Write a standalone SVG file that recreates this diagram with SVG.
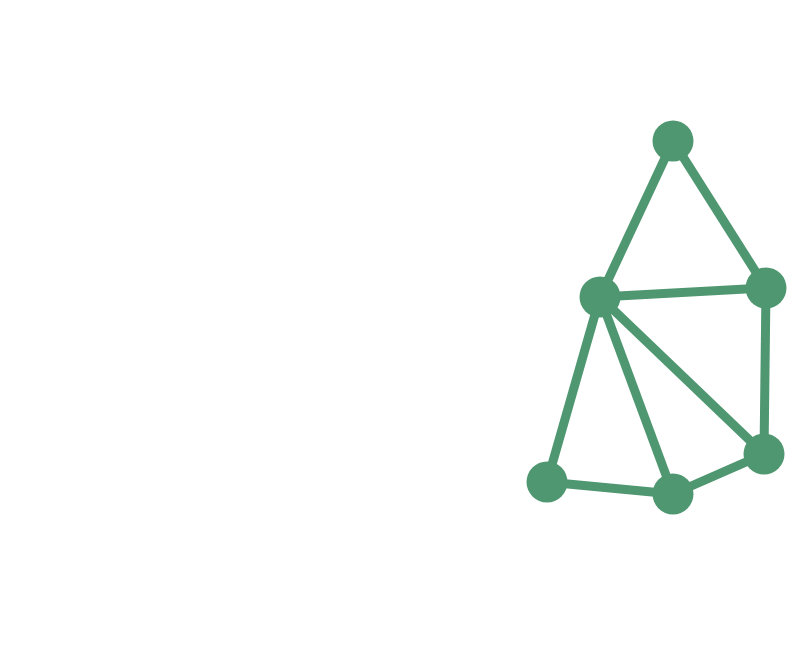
<svg xmlns="http://www.w3.org/2000/svg" width="787" height="672" viewBox="0 0 787 672">
<style>
.e{stroke:#4f9771;stroke-width:9;fill:none}
.n{fill:#4f9771}
</style>
<rect width="787" height="672" fill="#ffffff"/>
<g id="edges">
<line class="e" x1="673" y1="141" x2="600" y2="297"/>
<line class="e" x1="673" y1="141" x2="766" y2="288"/>
<line class="e" x1="600" y1="297" x2="766" y2="288"/>
<line class="e" x1="766" y1="288" x2="764" y2="454"/>
<line class="e" x1="600" y1="297" x2="764" y2="454"/>
<line class="e" x1="600" y1="297" x2="673" y2="494"/>
<line class="e" x1="600" y1="297" x2="547" y2="482"/>
<line class="e" x1="547" y1="482" x2="673" y2="494"/>
<line class="e" x1="673" y1="494" x2="764" y2="454"/>
</g>
<g id="n1"><circle class="n" cx="673" cy="141" r="20.5"/></g>
<g id="n2"><circle class="n" cx="766" cy="288" r="20.5"/></g>
<g id="n3"><circle class="n" cx="600" cy="297" r="20.5"/></g>
<g id="n4"><circle class="n" cx="764" cy="454" r="20.5"/></g>
<g id="n5"><circle class="n" cx="547" cy="482" r="20.5"/></g>
<g id="n6"><circle class="n" cx="673" cy="494" r="20.5"/></g>
</svg>
